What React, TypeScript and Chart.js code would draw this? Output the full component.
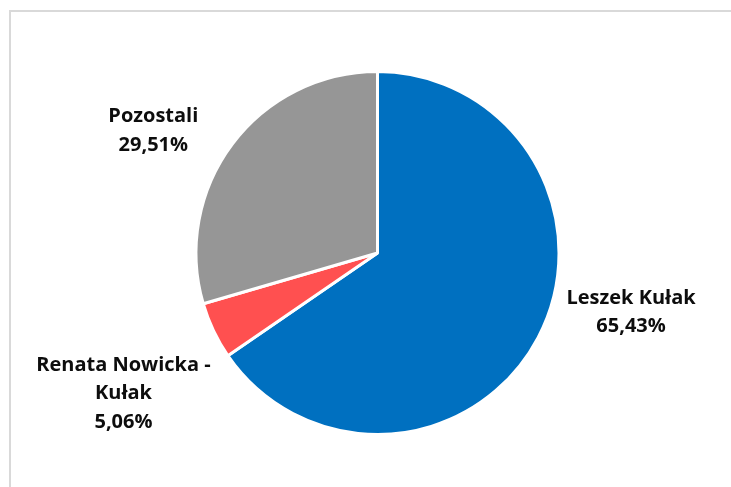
import React, { useEffect, useRef } from "react";
import { Chart, registerables } from "chart.js";

Chart.register(...registerables);

const categories = ["Leszek Kułak", "Renata Nowicka - Kułak", "Pozostali"];
const shares = [65.43, 5.06, 29.51];
const labelLines = [
  ["Leszek Kułak", "65,43%"],
  ["Renata Nowicka -", "Kułak", "5,06%"],
  ["Pozostali", "29,51%"],
];
const sliceColors = ["#0070C0", "#FF5050", "#969696"];
// label offset from the arc's outer mid point: [dx to text centre, dy to first baseline]
const labelOffsets = [
  [93, -34],
  [-90, 40],
  [-79, -22],
];

const labelPlugin = {
  id: "sliceLabels",
  afterDatasetsDraw(chart: any) {
    const ctx = chart.ctx;
    const meta = chart.getDatasetMeta(0);
    ctx.save();
    ctx.font = "bold 20px 'Open Sans'";
    ctx.fillStyle = "#0d0d0d";
    ctx.textAlign = "center";
    ctx.textBaseline = "alphabetic";
    meta.data.forEach((arc: any, i: number) => {
      const mid = (arc.startAngle + arc.endAngle) / 2;
      const r = arc.outerRadius;
      const px = arc.x + Math.cos(mid) * r + labelOffsets[i][0];
      const py = arc.y + Math.sin(mid) * r + labelOffsets[i][1];
      labelLines[i].forEach((line, j) => {
        ctx.fillText(line, px, py + j * 28.5);
      });
    });
    ctx.restore();
  },
};

export default function App() {
  const ref = useRef<HTMLCanvasElement | null>(null);
  useEffect(() => {
    if (!ref.current) return;
    const chart = new Chart(ref.current, {
      type: "pie",
      data: {
        labels: categories,
        datasets: [
          {
            data: shares,
            backgroundColor: sliceColors,
            borderColor: "#ffffff",
            borderWidth: 3,
          },
        ],
      },
      options: {
        responsive: false,
        animation: false,
        layout: { padding: { top: 70, bottom: 51, left: 100, right: 76 } },
        plugins: { legend: { display: false }, tooltip: { enabled: false } },
      },
      plugins: [labelPlugin],
    });
    return () => chart.destroy();
  }, []);
  return (
    <div style={{ position: "fixed", left: 0, top: 0, width: 731, height: 487, overflow: "hidden", background: "#fff" }}>
      <div
        style={{
          position: "absolute",
          left: 9,
          top: 10,
          width: 800,
          height: 600,
          borderLeft: "2px solid #d9d9d9",
          borderTop: "2px solid #d9d9d9",
        }}
      />
      <canvas ref={ref} width={731} height={487} style={{ position: "absolute", left: 0, top: 0 }} />
    </div>
  );
}
